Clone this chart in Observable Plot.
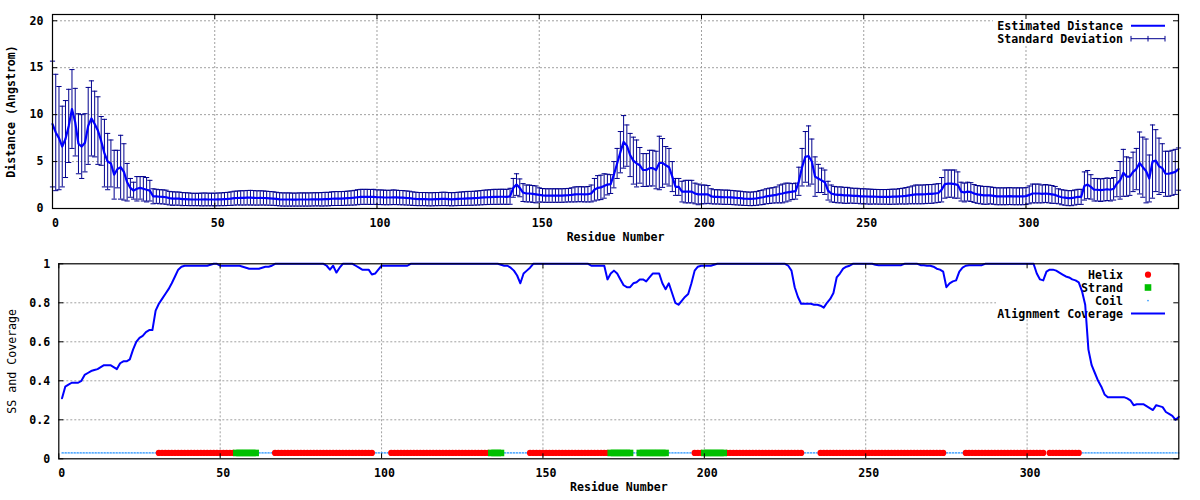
<!DOCTYPE html>
<html>
<head>
<meta charset="utf-8">
<script src="https://cdn.jsdelivr.net/npm/d3@7"></script>
<script src="https://cdn.jsdelivr.net/npm/@observablehq/plot@0.6"></script>
<style>
html,body{margin:0;padding:0;background:#fff;}
#chart svg{display:block;overflow:visible;}
</style>
</head>
<body>
<div id="chart"></div>
<script>
// ---------- DATA ----------
// Estimated distance (Angstrom) per position 0..347
const distMean = [
9.0, 8.1, 7.5, 6.6, 7.4, 8.8, 10.6, 9.2, 6.9, 6.6,
7.0, 8.8, 9.6, 9.0, 8.3, 7.2, 5.9, 5.0, 4.8, 3.6,
4.2, 4.4, 3.9, 2.8, 2.2, 1.9, 2.1, 2.2, 2.1, 2.0,
1.9, 1.3, 1.3, 1.25, 1.24, 1.2, 1.1, 1.06, 1.06, 1.05,
1.0, 1.0, 0.98, 0.96, 0.96, 0.96, 0.96, 0.97, 0.96, 0.96,
0.96, 0.97, 0.98, 1.0, 1.02, 1.05, 1.1, 1.12, 1.13, 1.13,
1.15, 1.15, 1.14, 1.12, 1.13, 1.12, 1.1, 1.08, 1.06, 1.02,
0.98, 0.96, 0.96, 0.96, 0.95, 0.95, 0.96, 0.96, 0.96, 0.96,
0.97, 0.98, 0.98, 0.98, 1.0, 1.0, 1.04, 1.06, 1.06, 1.06,
1.08, 1.1, 1.12, 1.15, 1.2, 1.24, 1.24, 1.24, 1.23, 1.24,
1.2, 1.2, 1.18, 1.17, 1.17, 1.2, 1.18, 1.16, 1.15, 1.12,
1.1, 1.05, 1.02, 1.0, 1.0, 1.0, 0.98, 0.98, 1.0, 1.0,
1.02, 1.02, 1.0, 0.98, 1.0, 1.02, 1.04, 1.06, 1.08, 1.08,
1.1, 1.12, 1.15, 1.18, 1.2, 1.22, 1.24, 1.24, 1.25, 1.25,
1.24, 1.3, 2.2, 2.55, 2.2, 1.7, 1.6, 1.6, 1.55, 1.5,
1.45, 1.4, 1.38, 1.38, 1.38, 1.38, 1.38, 1.38, 1.4, 1.42,
1.45, 1.5, 1.52, 1.52, 1.5, 1.52, 1.6, 2.0, 2.2, 2.25,
2.4, 2.55, 2.6, 3.6, 4.8, 6.0, 7.1, 6.7, 5.7, 5.1,
4.8, 4.6, 4.1, 4.1, 4.3, 4.3, 4.1, 4.85, 4.85, 4.6,
4.4, 3.4, 2.3, 2.3, 1.8, 1.8, 1.8, 1.8, 1.6, 1.5,
1.5, 1.5, 1.5, 1.3, 1.24, 1.24, 1.22, 1.2, 1.2, 1.18,
1.15, 1.12, 1.1, 1.06, 1.04, 1.02, 1.04, 1.08, 1.15, 1.2,
1.3, 1.35, 1.4, 1.45, 1.55, 1.6, 1.7, 1.75, 1.8, 1.85,
2.9, 4.4, 5.5, 5.6, 5.0, 3.4, 3.2, 3.0, 2.8, 1.9,
1.6, 1.5, 1.45, 1.45, 1.4, 1.4, 1.38, 1.35, 1.35, 1.3,
1.3, 1.28, 1.26, 1.26, 1.25, 1.24, 1.24, 1.24, 1.24, 1.26,
1.26, 1.3, 1.32, 1.35, 1.4, 1.45, 1.5, 1.5, 1.5, 1.52,
1.55, 1.55, 1.6, 1.65, 2.0, 2.6, 2.65, 2.65, 2.6, 2.5,
1.8, 1.7, 1.8, 1.75, 1.6, 1.5, 1.45, 1.4, 1.4, 1.4,
1.35, 1.3, 1.3, 1.3, 1.3, 1.32, 1.3, 1.3, 1.3, 1.3,
1.32, 1.45, 1.6, 1.6, 1.6, 1.55, 1.6, 1.55, 1.5, 1.45,
1.3, 1.2, 1.15, 1.1, 1.1, 1.17, 1.24, 1.24, 2.4, 2.55,
2.3, 2.0, 2.0, 1.95, 2.0, 2.05, 2.0, 2.1, 2.65, 3.0,
3.8, 3.4, 3.4, 3.9, 4.2, 4.85, 4.4, 4.0, 3.2, 5.0,
5.1, 4.5, 4.3, 3.7, 3.7, 3.8, 3.9, 4.2
];
// Standard deviation per position 0..347
const distSD = [
6.7, 6.2, 5.5, 4.3, 4.1, 3.9, 4.2, 3.6, 3.2, 3.4,
3.1, 4.1, 4.0, 3.5, 3.6, 2.6, 3.6, 3.0, 2.5, 2.6,
2.0, 3.4, 3.0, 2.0, 1.0, 0.9, 1.3, 1.2, 1.3, 1.3,
1.1, 0.8, 0.75, 0.75, 0.75, 0.75, 0.72, 0.72, 0.7, 0.7,
0.7, 0.68, 0.68, 0.66, 0.66, 0.66, 0.68, 0.68, 0.67, 0.67,
0.67, 0.68, 0.68, 0.7, 0.7, 0.72, 0.74, 0.74, 0.76, 0.76,
0.77, 0.78, 0.77, 0.76, 0.76, 0.75, 0.74, 0.73, 0.72, 0.71,
0.7, 0.7, 0.7, 0.7, 0.69, 0.69, 0.7, 0.7, 0.7, 0.7,
0.7, 0.7, 0.7, 0.72, 0.72, 0.72, 0.73, 0.74, 0.74, 0.74,
0.74, 0.75, 0.76, 0.78, 0.8, 0.8, 0.8, 0.8, 0.8, 0.8,
0.78, 0.78, 0.78, 0.77, 0.77, 0.78, 0.77, 0.76, 0.76, 0.75,
0.74, 0.72, 0.71, 0.7, 0.7, 0.7, 0.7, 0.7, 0.7, 0.7,
0.71, 0.71, 0.7, 0.7, 0.7, 0.71, 0.72, 0.73, 0.74, 0.74,
0.74, 0.75, 0.76, 0.77, 0.78, 0.78, 0.8, 0.8, 0.8, 0.8,
0.8, 0.85, 1.0, 1.15, 0.95, 0.95, 0.9, 0.9, 0.9, 0.9,
0.75, 0.73, 0.72, 0.72, 0.72, 0.72, 0.72, 0.72, 0.72, 0.72,
0.75, 0.8, 0.8, 0.8, 0.8, 0.82, 0.9, 1.2, 1.3, 1.3,
1.3, 1.1, 1.0, 1.4, 1.6, 2.2, 2.8, 2.2, 2.3, 2.5,
2.5, 1.9, 1.75, 1.75, 1.9, 1.9, 2.0, 2.85, 2.6, 2.0,
2.0, 1.6, 0.9, 0.9, 1.1, 1.2, 1.2, 1.2, 1.1, 1.1,
1.0, 1.0, 0.95, 0.8, 0.76, 0.76, 0.76, 0.76, 0.76, 0.75,
0.75, 0.74, 0.74, 0.73, 0.72, 0.72, 0.73, 0.74, 0.76, 0.78,
0.8, 0.82, 0.82, 0.85, 0.95, 1.0, 1.0, 0.95, 0.85, 0.85,
1.5, 2.0, 2.7, 3.2, 2.4, 2.1, 1.5, 1.3, 1.3, 1.0,
0.9, 0.85, 0.85, 0.85, 0.85, 0.85, 0.8, 0.8, 0.8, 0.8,
0.8, 0.8, 0.8, 0.78, 0.78, 0.78, 0.78, 0.78, 0.8, 0.8,
0.8, 0.82, 0.84, 0.88, 0.9, 0.95, 1.0, 1.0, 1.0, 1.0,
1.0, 1.0, 1.0, 1.0, 1.3, 1.5, 1.45, 1.45, 1.5, 1.4,
1.0, 1.0, 1.0, 1.0, 0.95, 0.95, 0.95, 0.95, 0.95, 0.9,
0.9, 0.9, 0.9, 0.9, 0.9, 0.9, 0.9, 0.9, 0.9, 0.9,
0.9, 0.95, 1.0, 1.0, 1.0, 0.95, 0.95, 0.95, 0.95, 0.9,
0.8, 0.8, 0.8, 0.8, 0.8, 0.8, 0.8, 0.8, 1.5, 1.5,
1.3, 1.2, 1.2, 1.2, 1.2, 1.2, 1.2, 1.2, 1.4, 2.0,
2.5, 2.1, 2.0, 2.1, 2.2, 3.3, 3.2, 3.4, 2.5, 3.9,
3.3, 3.0, 2.6, 2.4, 2.4, 2.4, 2.4, 2.25
];
// Alignment coverage per residue 1..347
const coverage = [
0.31, 0.37, 0.38, 0.39, 0.39, 0.39, 0.40, 0.43, 0.44, 0.45,
0.455, 0.46, 0.47, 0.48, 0.48, 0.48, 0.47, 0.46, 0.49, 0.50,
0.50, 0.51, 0.56, 0.60, 0.62, 0.63, 0.65, 0.66, 0.66, 0.76,
0.795, 0.82, 0.845, 0.87, 0.90, 0.935, 0.97, 0.985, 0.99, 0.99,
0.99, 0.99, 0.99, 0.99, 0.99, 0.99, 0.995, 1.0, 1.0, 0.99,
0.99, 0.99, 0.99, 0.99, 0.99, 0.99, 0.985, 0.98, 0.975, 0.975,
0.975, 0.975, 0.98, 0.985, 0.985, 0.99, 1.0, 1.0, 1.0, 1.0,
1.0, 1.0, 1.0, 1.0, 1.0, 1.0, 1.0, 1.0, 1.0, 1.0,
1.0, 1.0, 0.99, 0.97, 0.99, 0.955, 0.98, 1.0, 1.0, 1.0,
1.0, 0.99, 0.98, 0.97, 0.97, 0.97, 0.945, 0.95, 0.97, 0.99,
0.99, 0.99, 0.99, 0.99, 0.99, 0.99, 0.99, 0.99, 1.0, 1.0,
1.0, 1.0, 1.0, 1.0, 1.0, 1.0, 1.0, 1.0, 1.0, 1.0,
1.0, 1.0, 1.0, 1.0, 1.0, 1.0, 1.0, 1.0, 1.0, 1.0,
1.0, 1.0, 1.0, 1.0, 1.0, 1.0, 0.995, 0.99, 0.99, 0.98,
0.965, 0.94, 0.90, 0.95, 0.965, 0.98, 1.0, 1.0, 1.0, 1.0,
1.0, 1.0, 1.0, 1.0, 1.0, 1.0, 1.0, 1.0, 1.0, 1.0,
1.0, 1.0, 1.0, 1.0, 0.99, 0.99, 0.99, 0.99, 0.99, 0.92,
0.95, 0.965, 0.95, 0.92, 0.89, 0.88, 0.88, 0.90, 0.905, 0.92,
0.92, 0.91, 0.93, 0.95, 0.95, 0.95, 0.90, 0.87, 0.90, 0.85,
0.80, 0.79, 0.81, 0.83, 0.845, 0.90, 0.965, 0.985, 0.99, 0.99,
0.99, 0.99, 0.995, 1.0, 1.0, 1.0, 1.0, 1.0, 1.0, 1.0,
1.0, 1.0, 1.0, 1.0, 1.0, 1.0, 1.0, 1.0, 1.0, 1.0,
1.0, 1.0, 1.0, 1.0, 1.0, 0.99, 0.965, 0.88, 0.83, 0.795,
0.795, 0.795, 0.795, 0.79, 0.79, 0.785, 0.775, 0.80, 0.82, 0.85,
0.93, 0.95, 0.975, 0.985, 0.99, 1.0, 1.0, 1.0, 1.0, 1.0,
1.0, 1.0, 0.995, 0.993, 0.993, 0.993, 0.993, 0.993, 0.993, 0.993,
0.993, 1.0, 1.0, 1.0, 1.0, 1.0, 0.993, 0.993, 0.99, 0.99,
0.985, 0.975, 0.97, 0.96, 0.88, 0.90, 0.91, 0.915, 0.96, 0.98,
0.99, 0.993, 0.993, 0.993, 0.993, 0.993, 1.0, 1.0, 1.0, 1.0,
1.0, 1.0, 1.0, 1.0, 1.0, 1.0, 1.0, 1.0, 1.0, 1.0,
1.0, 1.0, 0.95, 0.92, 0.915, 0.96, 0.97, 0.97, 0.965, 0.955,
0.945, 0.935, 0.93, 0.92, 0.915, 0.905, 0.86, 0.79, 0.56, 0.48,
0.44, 0.40, 0.37, 0.33, 0.316, 0.316, 0.316, 0.316, 0.316, 0.316,
0.31, 0.30, 0.275, 0.28, 0.28, 0.28, 0.27, 0.26, 0.25, 0.275,
0.27, 0.265, 0.24, 0.23, 0.22, 0.20, 0.215
];
// Secondary structure, run-length encoded (C coil, H helix, E strand)
const ssRuns = [
["C",30],["H",24],["E",7],["C",5],["H",31],["C",5],["H",31],["E",4],
["C",8],["H",25],["E",7],["C",2],["E",9],["C",8],["H",3],["E",7],
["H",24],["C",5],["H",39],["C",6],["H",25],["C",1],["H",10],["C",31]
];
const ssLevel = 0.03;

const residueTicks = [0, 50, 100, 150, 200, 250, 300];
const distanceTicks = [0, 5, 10, 15, 20];
const coverageTicks = [0, 0.2, 0.4, 0.6, 0.8, 1];
const coverageTickLabels = ["0", "0.2", "0.4", "0.6", "0.8", "1"];
const xLabel = "Residue Number";
const distLabel = "Distance (Angstrom)";
const covLabel = "SS and Coverage";
const topLegend = ["Estimated Distance", "Standard Deviation"];
const bottomLegend = ["Helix", "Strand", "Coil", "Alignment Coverage"];

// ---------- BUILD ----------
const distData = distMean.map((m, i) => ({pos: i, mean: m, lo: m - distSD[i], hi: m + distSD[i]}));
const covData = coverage.map((c, i) => ({res: i + 1, cov: c}));
const ssSeq = ssRuns.flatMap(([t, n]) => Array(n).fill(t));
const ssData = ssSeq.map((t, i) => ({res: i + 1, ss: t}));

const FONT = "'DejaVu Sans Mono', monospace";
const FS = 11.6;
const BLUE = "#0000ff";
const ERR = "#00008e";
const RED = "#ff0000";
const GREEN = "#00c000";
const COIL = "#1e90ff";
const GRID = {stroke: "#a0a0a0", strokeOpacity: 1, strokeDasharray: "2,2", strokeWidth: 1};
const W = 1200, H = 250;

const capSymbol = {draw(ctx) { ctx.moveTo(-2.6, 0); ctx.lineTo(2.6, 0); }};

function frameTicks(xt, yt, innerW, innerH, len) {
  const s = {stroke: "#000", strokeWidth: 1};
  return [
    Plot.tickX(xt, {x: d => d, insetTop: innerH - len, ...s}),
    Plot.tickX(xt, {x: d => d, insetBottom: innerH - len, ...s}),
    Plot.tickY(yt, {y: d => d, insetRight: innerW - len, ...s}),
    Plot.tickY(yt, {y: d => d, insetLeft: innerW - len, ...s})
  ];
}

// ---------- TOP PANEL ----------
const tm = {l: 52, r: 22, t: 14, b: 42};
const topPlot = Plot.plot({
  width: W, height: H,
  marginLeft: tm.l, marginRight: tm.r, marginTop: tm.t, marginBottom: tm.b,
  x: {domain: [0, 347]},
  y: {domain: [0, 20.67]},
  style: {fontFamily: FONT, fontSize: FS + "px", fontWeight: "bold", color: "#000", background: "#fff"},
  marks: [
    Plot.gridX(residueTicks.filter(t => t > 0), GRID),
    Plot.gridY(distanceTicks.filter(t => t > 0), GRID),
    Plot.ruleX(distData, {x: "pos", y1: "lo", y2: "hi", stroke: ERR, strokeWidth: 1}),
    Plot.dot(distData, {x: "pos", y: "hi", symbol: capSymbol, fill: "none", stroke: ERR, strokeWidth: 1, r: 3}),
    Plot.dot(distData, {x: "pos", y: "lo", symbol: capSymbol, fill: "none", stroke: ERR, strokeWidth: 1, r: 3}),
    Plot.line(distData, {x: "pos", y: "mean", stroke: BLUE, strokeWidth: 2.2}),
    Plot.frame({stroke: "#000", strokeWidth: 1.2}),
    ...frameTicks(residueTicks, distanceTicks, W - tm.l - tm.r, H - tm.t - tm.b, 5),
    Plot.axisX(residueTicks, {anchor: "bottom", tickSize: 0, tickPadding: 10, dx: 3, label: null, fontWeight: "bold"}),
    Plot.axisY(distanceTicks, {anchor: "left", tickSize: 0, tickPadding: 9, label: null, fontWeight: "bold"}),
    Plot.text([xLabel], {text: d => d, frameAnchor: "bottom", dy: 32.4, fontWeight: "bold"}),
    Plot.text([distLabel], {text: d => d, frameAnchor: "left", textAnchor: "middle", rotate: -90, dx: -41, fontWeight: "bold"})
  ]
});

// ---------- BOTTOM PANEL ----------
const bm = {l: 58.3, r: 21.7, t: 13.3, b: 41.7};
const botPlot = Plot.plot({
  width: W, height: H,
  marginLeft: bm.l, marginRight: bm.r, marginTop: bm.t, marginBottom: bm.b,
  x: {domain: [0, 347]},
  y: {domain: [0, 1]},
  style: {fontFamily: FONT, fontSize: FS + "px", fontWeight: "bold", color: "#000", background: "#fff"},
  marks: [
    Plot.gridX(residueTicks.filter(t => t > 0), GRID),
    Plot.gridY(coverageTicks.filter(t => t > 0 && t < 1), GRID),
    Plot.line(ssData, {x: "res", y: d => d.ss === "C" ? ssLevel : NaN, stroke: COIL, strokeWidth: 1.3, strokeDasharray: "1.3,1.7"}),
    Plot.dot(ssData.filter(d => d.ss === "H"), {x: "res", y: () => ssLevel, r: 3.1, fill: RED, stroke: "none"}),
    Plot.dot(ssData.filter(d => d.ss === "E"), {x: "res", y: () => ssLevel, r: 3.7, symbol: "square", fill: GREEN, stroke: "none"}),
    Plot.line(covData, {x: "res", y: "cov", stroke: BLUE, strokeWidth: 2}),
    Plot.frame({stroke: "#000", strokeWidth: 1.2}),
    ...frameTicks(residueTicks, coverageTicks, W - bm.l - bm.r, H - bm.t - bm.b, 5),
    Plot.axisX(residueTicks, {anchor: "bottom", tickSize: 0, tickPadding: 10, dx: 3, label: null, fontWeight: "bold"}),
    Plot.axisY(coverageTicks, {anchor: "left", tickSize: 0, tickPadding: 8.5, label: null, fontWeight: "bold",
      tickFormat: d => coverageTickLabels[coverageTicks.indexOf(d)]}),
    Plot.text([xLabel], {text: d => d, frameAnchor: "bottom", dy: 32.4, fontWeight: "bold"}),
    Plot.text([covLabel], {text: d => d, frameAnchor: "left", textAnchor: "middle", rotate: -90, dx: -47, fontWeight: "normal"})
  ]
});

// ---------- LEGENDS (opaque key box drawn above grid, below data) ----------
const NS = "http://www.w3.org/2000/svg";
function insertLegend(svg, box, entries) {
  const grids = svg.querySelectorAll('[aria-label$="grid"]');
  const g = document.createElementNS(NS, "g");
  if (grids.length) grids[grids.length - 1].after(g); else svg.appendChild(g);
  const gs = d3.select(g);
  gs.append("rect").attr("x", box.x).attr("y", box.y).attr("width", box.w).attr("height", box.h).attr("fill", "#fff");
  entries.forEach(e => {
    gs.append("text").attr("x", 1123).attr("y", e.y).attr("dy", "0.36em")
      .attr("text-anchor", "end").attr("font-family", FONT).attr("font-size", FS).attr("font-weight", "bold")
      .attr("fill", "#000").text(e.label);
    const x1 = 1131, x2 = 1165, xm = 1148;
    if (e.kind === "line") {
      gs.append("line").attr("x1", x1).attr("x2", x2).attr("y1", e.y).attr("y2", e.y).attr("stroke", BLUE).attr("stroke-width", 2);
    } else if (e.kind === "err") {
      gs.append("line").attr("x1", x1).attr("x2", x2).attr("y1", e.y).attr("y2", e.y).attr("stroke", ERR);
      [x1, xm, x2].forEach(x => gs.append("line").attr("x1", x).attr("x2", x).attr("y1", e.y - 2.8).attr("y2", e.y + 2.8).attr("stroke", ERR));
    } else if (e.kind === "helix") {
      gs.append("circle").attr("cx", xm).attr("cy", e.y).attr("r", 3.1).attr("fill", RED);
    } else if (e.kind === "strand") {
      gs.append("rect").attr("x", xm - 3.3).attr("y", e.y - 3.3).attr("width", 6.6).attr("height", 6.6).attr("fill", GREEN);
    } else if (e.kind === "coil") {
      gs.append("rect").attr("x", xm - 0.7).attr("y", e.y - 0.7).attr("width", 1.4).attr("height", 1.4).attr("fill", COIL);
    }
  });
}
insertLegend(topPlot, {x: 993, y: 14.5, w: 184.5, h: 30}, [
  {label: topLegend[0], y: 25.7, kind: "line"},
  {label: topLegend[1], y: 38.7, kind: "err"}
]);
insertLegend(botPlot, {x: 996, y: 13.8, w: 181.5, h: 54.5}, [
  {label: bottomLegend[0], y: 24.7, kind: "helix"},
  {label: bottomLegend[1], y: 37.5, kind: "strand"},
  {label: bottomLegend[2], y: 50.6, kind: "coil"},
  {label: bottomLegend[3], y: 63.5, kind: "line"}
]);

const chart = document.getElementById("chart");
chart.appendChild(topPlot);
chart.appendChild(botPlot);
</script>
</body>
</html>
